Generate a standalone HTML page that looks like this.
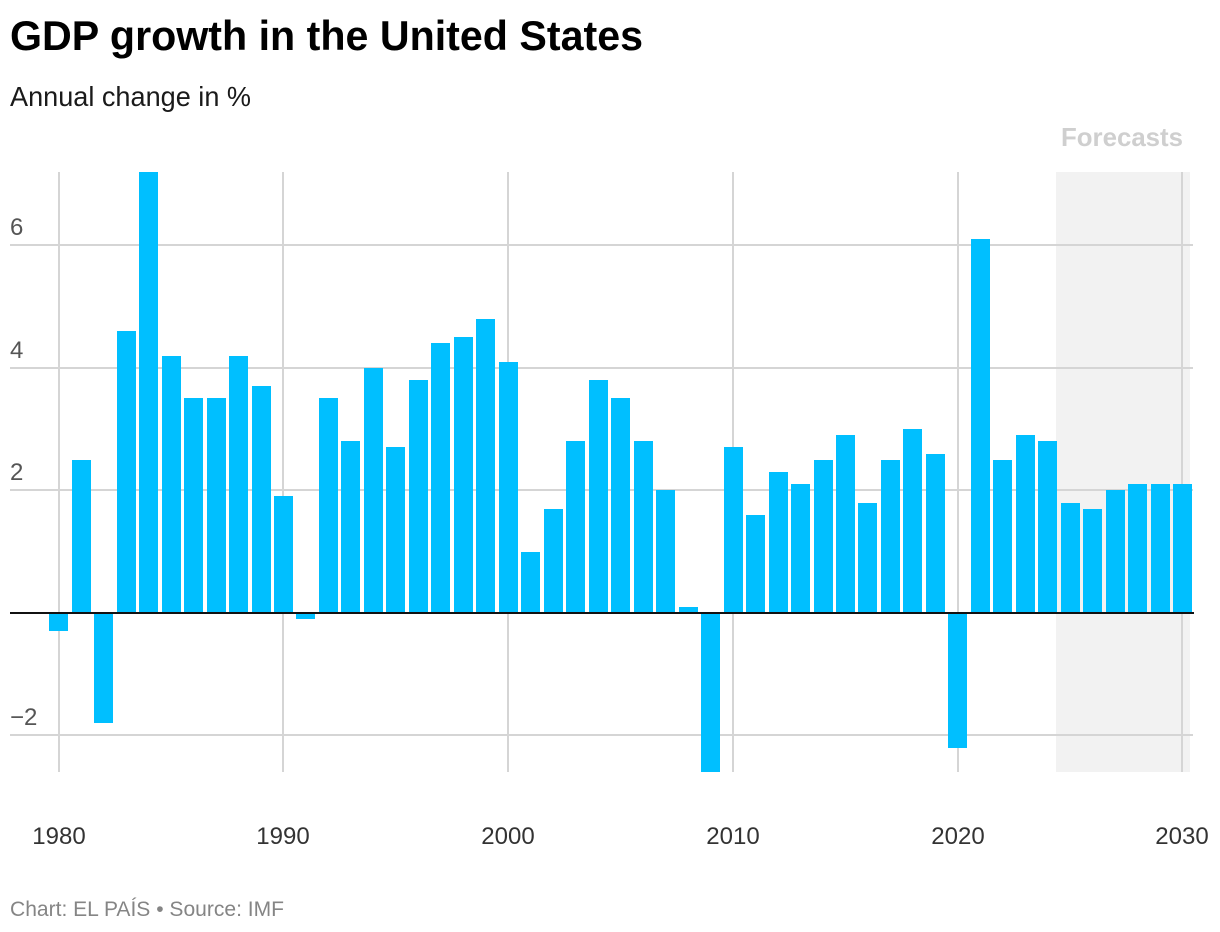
<!DOCTYPE html>
<html lang="en">
<head>
<meta charset="utf-8">
<title>GDP growth in the United States</title>
<style>
  html, body { margin: 0; padding: 0; background: #fff; width: 1220px; height: 932px; overflow: hidden; }
  svg { display: block; font-family: "Liberation Sans", sans-serif; }
</style>
</head>
<body>
<svg id="chart" width="1220" height="932" viewBox="0 0 1220 932" xmlns="http://www.w3.org/2000/svg">
  <text x="10" y="50" font-size="42" font-weight="700" fill="#000" textLength="633" lengthAdjust="spacingAndGlyphs">GDP growth in the United States</text>
  <text x="10" y="106" font-size="28" fill="#1a1a1a" textLength="241" lengthAdjust="spacingAndGlyphs">Annual change in %</text>
  <text x="1183" y="146" font-size="26" font-weight="700" fill="#cfcfcf" text-anchor="end" textLength="122" lengthAdjust="spacingAndGlyphs">Forecasts</text>
  <rect x="1056" y="172" width="134" height="600" fill="#f2f2f2"></rect>
  <g id="grid"></g>
  <g id="bars"></g>
  <line x1="10" x2="1194" y1="613" y2="613" stroke="#111" stroke-width="2"></line>
  <g id="ylabels"></g>
  <g id="xlabels"></g>
  <text x="10" y="916" font-size="21.5" fill="#858585" textLength="274" lengthAdjust="spacingAndGlyphs">Chart: EL PAÍS • Source: IMF</text>
</svg>
<script>
const startYear = 1980;
const growth = [-0.3, 2.5, -1.8, 4.6, 7.2, 4.2, 3.5, 3.5, 4.2, 3.7,
  1.9, -0.1, 3.5, 2.8, 4.0, 2.7, 3.8, 4.4, 4.5, 4.8,
  4.1, 1.0, 1.7, 2.8, 3.8, 3.5, 2.8, 2.0, 0.1, -2.6,
  2.7, 1.6, 2.3, 2.1, 2.5, 2.9, 1.8, 2.5, 3.0, 2.6,
  -2.2, 6.1, 2.5, 2.9, 2.8, 1.8, 1.7, 2.0, 2.1, 2.1, 2.1];
const xTicks = [1980, 1990, 2000, 2010, 2020, 2030];
const yTicks = [6, 4, 2, -2];

const NS = 'http://www.w3.org/2000/svg';
const plotTop = 172, plotBottom = 772;
function xScale(year) { return 58.7 + (year - 1980) * 22.48; }
function xTickScale(year) { return Math.round(58.5 + (year - 1980) * 22.475); }
function yScale(v) { return Math.round(612.8 - v * 61.25); }
function clampY(y) { return Math.max(plotTop, Math.min(plotBottom, y)); }
function make(tag, parent, attrs) {
  const el = document.createElementNS(NS, tag);
  for (const k in attrs) el.setAttribute(k, attrs[k]);
  parent.appendChild(el);
  return el;
}

const grid = document.getElementById('grid');
yTicks.forEach(function (t) {
  const l = make('line', grid, { x1: 10, x2: 1193, y1: yScale(t), y2: yScale(t), stroke: '#d5d5d5', 'stroke-width': 2 });
  
  
});
xTicks.forEach(function (t) {
  const x = xTickScale(t);
  const l = make('line', grid, { x1: x, x2: x, y1: plotTop, y2: plotBottom, stroke: '#d5d5d5', 'stroke-width': 2 });
  
  
});

const bars = document.getElementById('bars');
growth.forEach(function (v, i) {
  const x = Math.round(xScale(startYear + i) - 9.5);
  const y0 = clampY(yScale(0));
  const y1 = clampY(yScale(v));
  const r = make('rect', bars, {
    x: x,
    y: Math.min(y0, y1),
    width: 19,
    height: Math.abs(y1 - y0),
    fill: '#00bfff'
  });
  
  
});

const ylabels = document.getElementById('ylabels');
yTicks.forEach(function (t) {
  const el = make('text', ylabels, { x: 10, y: yScale(t) - 10, 'font-size': 24, fill: '#555' });
  el.textContent = t < 0 ? '\u2212' + Math.abs(t) : String(t);
  
  
});

const xlabels = document.getElementById('xlabels');
xTicks.forEach(function (t) {
  const el = make('text', xlabels, { x: xTickScale(t), y: 844, 'font-size': 24, fill: '#333', 'text-anchor': 'middle' });
  el.textContent = String(t);
  
  
});
</script>
</body>
</html>
